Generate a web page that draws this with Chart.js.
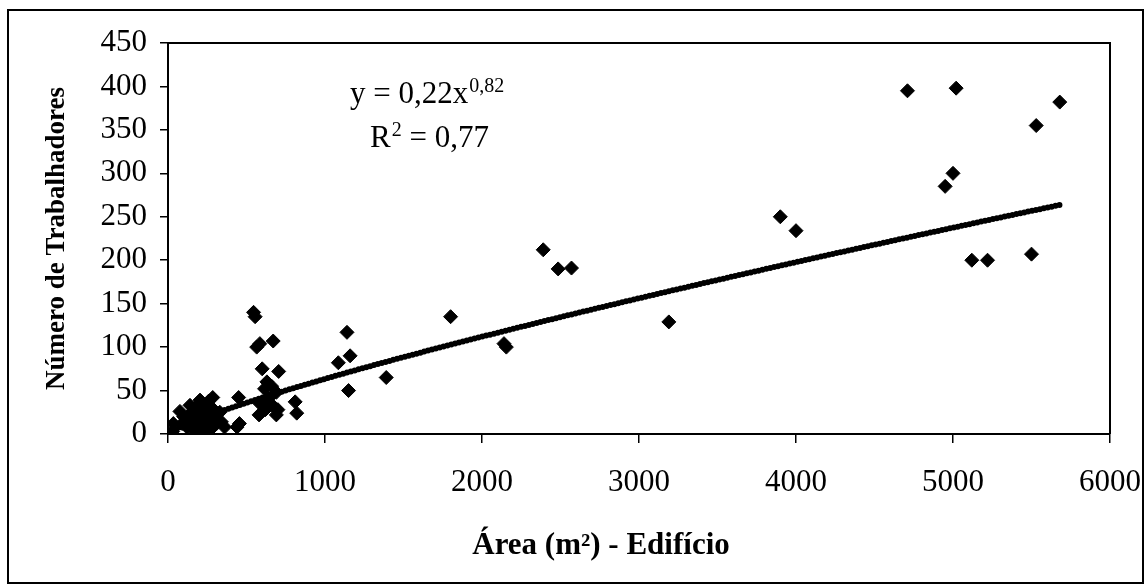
<!DOCTYPE html>
<html lang="pt">
<head>
<meta charset="utf-8">
<title>Número de Trabalhadores x Área</title>
<script src="https://cdn.jsdelivr.net/npm/chart.js@4.4.0/dist/chart.umd.min.js"></script>
<style>
  html, body { margin: 0; padding: 0; background: #fff; }
</style>
</head>
<body>
<canvas id="areaChart" width="1144" height="584"></canvas>
<script>
// Área construída de cada edifício (m²)
var areaM2 = [
  4710, 5020, 5680, 5530, 5000, 4950, 5120, 5220, 5500, 3900, 4000, 3190,
  2390, 2485, 2570, 2140, 2155, 1800, 1390, 1140, 1160, 1085, 1150,
  545, 555, 565, 585, 670, 600, 705, 630, 615, 660, 690, 640, 585, 665, 700, 580, 690, 810, 820, 620,
  450, 455, 440, 360, 270, 30, 34, 76, 140, 204, 285, 100, 120, 150, 170, 180, 200, 220, 240, 250,
  260, 280, 300, 310, 230, 190, 160, 120, 90, 210, 260, 330, 340, 200, 240
]
// Número de trabalhadores no mesmo edifício
var trabalhadores = [
  395, 398, 382, 355, 300, 285, 200, 200, 207, 250, 234, 129,
  212, 190, 191, 104, 100, 135, 65, 117, 90, 82, 50,
  140, 135, 100, 104, 107, 75, 72, 60, 52, 55, 48, 41, 35, 33, 28, 22, 22, 37, 24, 28,
  42, 12, 8, 8, 5, 3, 12, 26, 33, 39, 42, 20, 15, 25, 30, 18, 28, 22, 32, 15,
  26, 30, 20, 12, 10, 8, 5, 8, 12, 15, 38, 25, 14, 3, 6
]

// Linha de tendência potencial (y = a.x^b) e coeficiente de determinação
var trendCoef = 0.22
var trendExp = 0.82
var rSquared = 0.77

// Marcas dos eixos
var xTicks = [0, 1000, 2000, 3000, 4000, 5000, 6000]
var yTicks = [0, 50, 100, 150, 200, 250, 300, 350, 400, 450]

var tituloX = 'Área (m²) - Edifício'
var tituloY = 'Número de Trabalhadores'

var serif = '"Liberation Serif", "Times New Roman", serif'

function virgula(v) {
  return v.toFixed(2).replace('.', ',')
}

// pontos do gráfico de dispersão
var pontos = areaM2.map(function (a, i) {
  return { x: a, y: trabalhadores[i] }
})

// curva de tendência entre a menor e a maior área
var xMin = Math.min.apply(null, areaM2)
var xMax = Math.max.apply(null, areaM2)
var tendencia = []
for (var k = 0; k <= 120; k++) {
  var xv = xMin + (xMax - xMin) * k / 120
  tendencia.push({ x: xv, y: trendCoef * Math.pow(xv, trendExp) })
}

// moldura, borda da área de plotagem, título do eixo x e equação da tendência
var molduraPlugin = {
  id: 'moldura',
  afterDraw: function (chart) {
    var ctx = chart.ctx
    var a = chart.chartArea
    ctx.save()
    ctx.strokeStyle = '#000'
    ctx.lineWidth = 2
    ctx.strokeRect(8, 10, 1135, 573)

    ctx.beginPath()
    ctx.moveTo(a.left, a.top)
    ctx.lineTo(a.right, a.top)
    ctx.lineTo(a.right, a.bottom)
    ctx.stroke()

    ctx.fillStyle = '#000'

    // título do eixo x (um pouco à esquerda do centro da área)
    ctx.textAlign = 'center'
    ctx.textBaseline = 'middle'
    ctx.font = 'bold 31px ' + serif
    ctx.fillText(tituloX, 601, 546)

    ctx.textBaseline = 'alphabetic'
    ctx.textAlign = 'left'

    var linha1 = 'y = ' + virgula(trendCoef) + 'x'
    ctx.font = '31px ' + serif
    ctx.fillText(linha1, 350, 103)
    var w1 = ctx.measureText(linha1).width
    ctx.font = '20px ' + serif
    ctx.fillText(virgula(trendExp), 350 + w1 + 1, 92)

    ctx.font = '31px ' + serif
    ctx.fillText('R', 370, 147)
    var wR = ctx.measureText('R').width
    ctx.font = '20px ' + serif
    ctx.fillText('2', 370 + wR + 1, 136)
    var w2 = ctx.measureText('2').width
    ctx.font = '31px ' + serif
    ctx.fillText(' = ' + virgula(rSquared), 370 + wR + w2 + 1, 147)
    ctx.restore()
  }
}

var ctx = document.getElementById('areaChart').getContext('2d')
var chart = new Chart(ctx, {
  type: 'scatter',
  data: {
    datasets: [
      {
        type: 'line',
        label: 'Tendência',
        data: tendencia,
        borderColor: '#000',
        borderWidth: 6,
        borderCapStyle: 'round',
        borderDash: [0, 4],
        pointRadius: 0,
        fill: false,
        tension: 0,
        order: 0
      },
      {
        label: 'Edifícios',
        data: pontos,
        pointStyle: 'rectRot',
        pointRadius: 7,
        backgroundColor: '#000',
        borderColor: '#000',
        borderWidth: 1,
        order: 1
      }
    ]
  },
  options: {
    responsive: false,
    animation: false,
    layout: { padding: { left: 0, top: 43, right: 34, bottom: 0 } },
    plugins: {
      legend: { display: false },
      tooltip: { enabled: false }
    },
    scales: {
      x: {
        type: 'linear',
        min: xTicks[0],
        max: xTicks[xTicks.length - 1],
        afterBuildTicks: function (scale) {
          scale.ticks = xTicks.map(function (v) { return { value: v } })
        },
        afterFit: function (scale) {
          scale.height = 150
          // o rótulo 6000 pode ultrapassar a área sem empurrá-la
          scale.paddingLeft = 0
          scale.paddingRight = 0
        },
        grid: { drawOnChartArea: false, drawTicks: true, tickLength: 9, color: '#000', lineWidth: 1.5 },
        border: { display: true, color: '#000', width: 2 },
        ticks: {
          color: '#000',
          padding: 21,
          maxRotation: 0,
          font: { family: serif, size: 31 },
          callback: function (v) { return String(v) }
        }
      },
      y: {
        type: 'linear',
        min: yTicks[0],
        max: yTicks[yTicks.length - 1],
        afterBuildTicks: function (scale) {
          scale.ticks = yTicks.map(function (v) { return { value: v } })
        },
        afterFit: function (scale) {
          scale.width = 168
          scale.paddingTop = 0
          scale.paddingBottom = 0
        },
        grid: { drawOnChartArea: false, drawTicks: true, tickLength: 8, color: '#000', lineWidth: 1.5 },
        border: { display: true, color: '#000', width: 2 },
        ticks: {
          color: '#000',
          padding: 13,
          font: { family: serif, size: 31 },
          callback: function (v) { return String(v) }
        },
        title: {
          display: true,
          text: tituloY,
          color: '#000',
          padding: { top: 41, bottom: 0 },
          font: { family: serif, size: 27, weight: 'bold' }
        }
      }
    }
  },
  plugins: [molduraPlugin]
})
</script>
</body>
</html>
